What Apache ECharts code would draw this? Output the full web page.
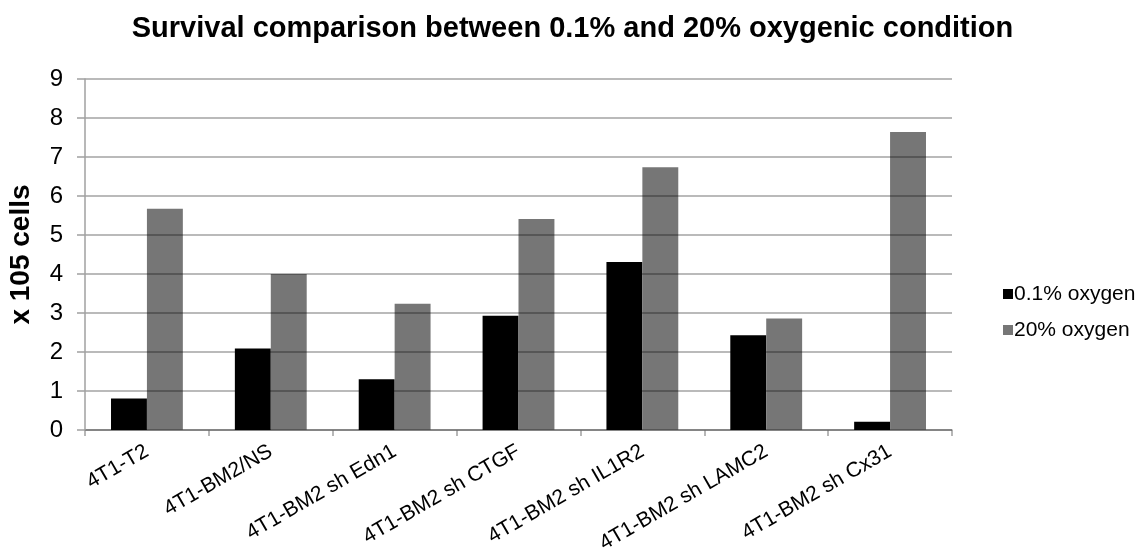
<!DOCTYPE html>
<html>
<head>
<meta charset="utf-8">
<script src="https://cdn.jsdelivr.net/npm/echarts@6/dist/echarts.min.js"></script>
<style>
  html, body { margin: 0; padding: 0; background: #ffffff; }
  #chart { width: 1145px; height: 554px; }
</style>
</head>
<body>
<div id="chart"></div>
<script>
// Cell lines
const categories = ['4T1-T2', '4T1-BM2/NS', '4T1-BM2 sh Edn1', '4T1-BM2 sh CTGF',
  '4T1-BM2 sh IL1R2', '4T1-BM2 sh LAMC2', '4T1-BM2 sh Cx31'];
// Surviving cells (x 10^5) per oxygen condition
const lowOxygen = [0.81, 2.09, 1.30, 2.93, 4.31, 2.43, 0.21];
const normalOxygen = [5.67, 4.00, 3.24, 5.41, 6.74, 2.86, 7.64];
const seriesNames = ['0.1% oxygen', '20% oxygen'];
const yTicks = { min: 0, max: 9, interval: 1 };

const font = 'Liberation Sans, Arial, Helvetica, sans-serif';
const chart = echarts.init(document.getElementById('chart'), null, { renderer: 'canvas' });

chart.setOption({
  backgroundColor: '#ffffff',
  animation: false,
  title: {
    text: 'Survival comparison between 0.1% and 20% oxygenic condition',
    left: 'center',
    top: 9,
    textStyle: { fontFamily: font, fontSize: 29, fontWeight: 'bold', color: '#000' }
  },
  legend: {
    orient: 'vertical',
    left: 998,
    top: 278,
    itemWidth: 10,
    itemHeight: 10,
    itemGap: 14,
    icon: 'rect',
    data: seriesNames,
    textStyle: { fontFamily: font, fontSize: 21, color: '#000', padding: [0, 0, 0, -4], lineHeight: 22 }
  },
  grid: {
    left: 85, right: 193, top: 79, bottom: 124,
    containLabel: false,
    outerBoundsMode: 'none'
  },
  xAxis: {
    type: 'category',
    data: categories,
    axisLine: { lineStyle: { color: '#a0a0a0', width: 1.5 } },
    axisTick: { show: true, length: 6, lineStyle: { color: '#a0a0a0', width: 1.5 } },
    axisLabel: { rotate: 30, margin: 20, interval: 0, fontFamily: font, fontSize: 21, color: '#000' }
  },
  yAxis: {
    type: 'value',
    min: yTicks.min,
    max: yTicks.max,
    interval: yTicks.interval,
    z: 5,
    name: 'x 105 cells',
    nameLocation: 'middle',
    nameGap: 50,
    nameTextStyle: { fontFamily: font, fontSize: 28, fontWeight: 'bold', color: '#000' },
    axisLine: { show: true, lineStyle: { color: '#a0a0a0', width: 1.5 } },
    axisTick: { show: true, length: 8, lineStyle: { color: '#a0a0a0', width: 1.5 } },
    axisLabel: { margin: 22, fontFamily: font, fontSize: 24, color: '#000' },
    splitLine: { show: true, lineStyle: { color: 'rgba(0,0,0,0.36)', width: 1.5 } }
  },
  series: [
    {
      name: seriesNames[0],
      type: 'bar',
      data: lowOxygen,
      barGap: '0%',
      barCategoryGap: '42%',
      itemStyle: { color: '#000000' }
    },
    {
      name: seriesNames[1],
      type: 'bar',
      data: normalOxygen,
      itemStyle: { color: '#767676' }
    }
  ]
});
</script>
</body>
</html>
